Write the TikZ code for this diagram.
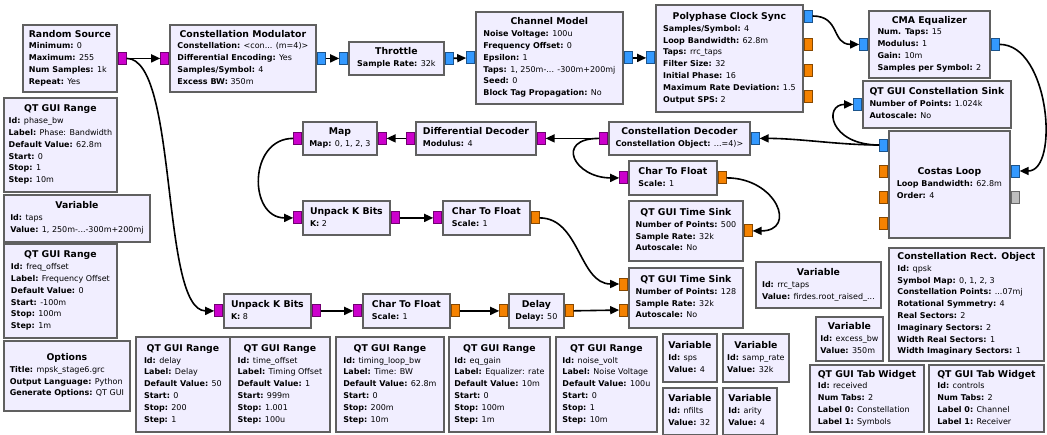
\documentclass[tikz,border=0pt]{standalone}
\usepackage{fontspec}
\setmainfont{DejaVu Sans}
\usetikzlibrary{positioning, arrows.meta}

\definecolor{blockfill}{RGB}{241,238,255}
\definecolor{blockedge}{RGB}{96,96,96}
\definecolor{cplxblue}{RGB}{51,153,255}
\definecolor{bytemag}{RGB}{204,0,204}
\definecolor{fltorange}{RGB}{245,130,0}
\definecolor{msggray}{RGB}{190,190,190}

% title centred over left aligned parameter lines
\newcommand{\blocktext}[2]{\begin{tabular}{@{}l@{}}\multicolumn{1}{@{}c@{}}{\fontsize{9.3}{12}\selectfont\bfseries #1}\\#2\end{tabular}}

\begin{document}
\begin{tikzpicture}[x=1pt, y=-1pt,
    block/.style={rectangle, draw=blockedge, line width=1.8pt, fill=blockfill,
                  anchor=north west, inner sep=0pt, font=\fontsize{8}{11.8}\selectfont},
    wh/.style 2 args={minimum width=#1pt, minimum height=#2pt},
    port/.style={rectangle, line width=0.8pt, minimum width=8pt, minimum height=12pt, inner sep=0pt},
    cplx/.style={port, fill=cplxblue, draw=cplxblue!55!black},
    byte/.style={port, fill=bytemag, draw=bytemag!55!black},
    flt/.style={port, fill=fltorange, draw=fltorange!55!black},
    msg/.style={port, fill=msggray, draw=msggray!55!black},
    arrow/.style={-{Triangle[length=9pt, width=8pt]}, line width=1.6pt}]

    \fill[white] (0,0) rectangle (1047,435);
    \useasboundingbox (0,0) rectangle (1047,435);

    % Signal blocks
    \node[block, wh={94}{67}] (rsrc) at (22,24) {\blocktext{Random Source}{\textbf{Minimum:} 0\\\textbf{Maximum:} 255\\\textbf{Num Samples:} 1k\\\textbf{Repeat:} Yes}};
    \node[block, wh={146}{67}] (cmod) at (169,24) {\blocktext{Constellation Modulator}{\textbf{Constellation:} <con... (m=4)>\\\textbf{Differential Encoding:} Yes\\\textbf{Samples/Symbol:} 4\\\textbf{Excess BW:} 350m}};
    \node[block, wh={95}{33}] (thr) at (348,41) {\blocktext{Throttle}{\textbf{Sample Rate:} 32k}};
    \node[block, wh={147}{92}] (chan) at (475,11) {\blocktext{Channel Model}{\textbf{Noise Voltage:} 100u\\\textbf{Frequency Offset:} 0\\\textbf{Epsilon:} 1\\\textbf{Taps:} 1, 250m-... -300m+200mj\\\textbf{Seed:} 0\\\textbf{Block Tag Propagation:} No}};
    \node[block, wh={147}{107}] (pfb) at (655,4) {\blocktext{Polyphase Clock Sync}{\textbf{Samples/Symbol:} 4\\\textbf{Loop Bandwidth:} 62.8m\\\textbf{Taps:} rrc\_taps\\\textbf{Filter Size:} 32\\\textbf{Initial Phase:} 16\\\textbf{Maximum Rate Deviation:} 1.5\\\textbf{Output SPS:} 2}};
    \node[block, wh={121}{67}] (cma) at (868,10) {\blocktext{CMA Equalizer}{\textbf{Num. Taps:} 15\\\textbf{Modulus:} 1\\\textbf{Gain:} 10m\\\textbf{Samples per Symbol:} 2}};
    \node[block, wh={148}{47}] (csink) at (862,80) {\blocktext{QT GUI Constellation Sink}{\textbf{Number of Points:} 1.024k\\\textbf{Autoscale:} No}};
    \node[block, wh={121}{107}] (costas) at (888,130) {\blocktext{Costas Loop}{\textbf{Loop Bandwidth:} 62.8m\\\textbf{Order:} 4}};
    \node[block, wh={141}{33}] (cdec) at (608,121) {\blocktext{Constellation Decoder}{\textbf{Constellation Object:} ...=4)>}};
    \node[block, wh={120}{33}] (ddec) at (415,121) {\blocktext{Differential Decoder}{\textbf{Modulus:} 4}};
    \node[block, wh={74}{33}] (map) at (302,121) {\blocktext{Map}{\textbf{Map:} 0, 1, 2, 3}};
    \node[block, wh={87}{34}] (ukb2) at (302,200) {\blocktext{Unpack K Bits}{\textbf{K:} 2}};
    \node[block, wh={87}{34}] (ctf2) at (442,200) {\blocktext{Char To Float}{\textbf{Scale:} 1}};
    \node[block, wh={88}{34}] (ctf1) at (628,160) {\blocktext{Char To Float}{\textbf{Scale:} 1}};
    \node[block, wh={114}{60}] (tsink1) at (628,200) {\blocktext{QT GUI Time Sink}{\textbf{Number of Points:} 500\\\textbf{Sample Rate:} 32k\\\textbf{Autoscale:} No}};
    \node[block, wh={114}{60}] (tsink2) at (628,267) {\blocktext{QT GUI Time Sink}{\textbf{Number of Points:} 128\\\textbf{Sample Rate:} 32k\\\textbf{Autoscale:} No}};
    \node[block, wh={87}{34}] (ukb8) at (223,293) {\blocktext{Unpack K Bits}{\textbf{K:} 8}};
    \node[block, wh={87}{34}] (ctf3) at (362,293) {\blocktext{Char To Float}{\textbf{Scale:} 1}};
    \node[block, wh={55}{34}] (dly) at (508,293) {\blocktext{Delay}{\textbf{Delay:} 50}};

    % Variables and GUI widgets
    \node[block, wh={113}{94}] (rngphase) at (3,97) {\blocktext{QT GUI Range}{\textbf{Id:} phase\_bw\\\textbf{Label:} Phase: Bandwidth\\\textbf{Default Value:} 62.8m\\\textbf{Start:} 0\\\textbf{Stop:} 1\\\textbf{Step:} 10m}};
    \node[block, wh={146}{47}] (vartaps) at (3,194) {\blocktext{Variable}{\textbf{Id:} taps\\\textbf{Value:} 1, 250m-...-300m+200mj}};
    \node[block, wh={113}{94}] (rngfreq) at (3,243) {\blocktext{QT GUI Range}{\textbf{Id:} freq\_offset\\\textbf{Label:} Frequency Offset\\\textbf{Default Value:} 0\\\textbf{Start:} -100m\\\textbf{Stop:} 100m\\\textbf{Step:} 1m}};
    \node[block, wh={126}{70}] (opts) at (3,340) {\blocktext{Options}{\textbf{Title:} mpsk\_stage6.grc\\\textbf{Output Language:} Python\\\textbf{Generate Options:} QT GUI}};
    \node[block, wh={94}{95}] (rngdelay) at (135,336) {\blocktext{QT GUI Range}{\textbf{Id:} delay\\\textbf{Label:} Delay\\\textbf{Default Value:} 50\\\textbf{Start:} 0\\\textbf{Stop:} 200\\\textbf{Step:} 1}};
    \node[block, wh={100}{95}] (rngtoff) at (229,336) {\blocktext{QT GUI Range}{\textbf{Id:} time\_offset\\\textbf{Label:} Timing Offset\\\textbf{Default Value:} 1\\\textbf{Start:} 999m\\\textbf{Stop:} 1.001\\\textbf{Step:} 100u}};
    \node[block, wh={108}{95}] (rngtlbw) at (335,336) {\blocktext{QT GUI Range}{\textbf{Id:} timing\_loop\_bw\\\textbf{Label:} Time: BW\\\textbf{Default Value:} 62.8m\\\textbf{Start:} 0\\\textbf{Stop:} 200m\\\textbf{Step:} 10m}};
    \node[block, wh={101}{95}] (rngeq) at (448,336) {\blocktext{QT GUI Range}{\textbf{Id:} eq\_gain\\\textbf{Label:} Equalizer: rate\\\textbf{Default Value:} 10m\\\textbf{Start:} 0\\\textbf{Stop:} 100m\\\textbf{Step:} 1m}};
    \node[block, wh={101}{95}] (rngnoise) at (555,336) {\blocktext{QT GUI Range}{\textbf{Id:} noise\_volt\\\textbf{Label:} Noise Voltage\\\textbf{Default Value:} 100u\\\textbf{Start:} 0\\\textbf{Stop:} 1\\\textbf{Step:} 10m}};
    \node[block, wh={54}{48}] (varsps) at (662,333) {\blocktext{Variable}{\textbf{Id:} sps\\\textbf{Value:} 4}};
    \node[block, wh={66}{48}] (varsamp) at (722,333) {\blocktext{Variable}{\textbf{Id:} samp\_rate\\\textbf{Value:} 32k}};
    \node[block, wh={54}{47}] (varnfilts) at (662,387) {\blocktext{Variable}{\textbf{Id:} nfilts\\\textbf{Value:} 32}};
    \node[block, wh={54}{47}] (vararity) at (722,387) {\blocktext{Variable}{\textbf{Id:} arity\\\textbf{Value:} 4}};
    \node[block, wh={125}{46}] (varrrc) at (755,261) {\blocktext{Variable}{\textbf{Id:} rrc\_taps\\\textbf{Value:} firdes.root\_raised\_...}};
    \node[block, wh={67}{44}] (varebw) at (815,316) {\blocktext{Variable}{\textbf{Id:} excess\_bw\\\textbf{Value:} 350m}};
    \node[block, wh={155}{113}] (crect) at (888,247) {\blocktext{Constellation Rect. Object}{\textbf{Id:} qpsk\\\textbf{Symbol Map:} 0, 1, 2, 3\\\textbf{Constellation Points:} ...07mj\\\textbf{Rotational Symmetry:} 4\\\textbf{Real Sectors:} 2\\\textbf{Imaginary Sectors:} 2\\\textbf{Width Real Sectors:} 1\\\textbf{Width Imaginary Sectors:} 1}};
    \node[block, wh={114}{67}] (tabrx) at (809,364) {\blocktext{QT GUI Tab Widget}{\textbf{Id:} received\\\textbf{Num Tabs:} 2\\\textbf{Label 0:} Constellation\\\textbf{Label 1:} Symbols}};
    \node[block, wh={115}{67}] (tabctl) at (928,364) {\blocktext{QT GUI Tab Widget}{\textbf{Id:} controls\\\textbf{Num Tabs:} 2\\\textbf{Label 0:} Channel\\\textbf{Label 1:} Receiver}};

    % Ports
    \node[byte, right=0pt of rsrc] (rsrc-out) {};
    \node[byte, left=0pt of cmod] (cmod-in) {};
    \node[cplx, right=0pt of cmod] (cmod-out) {};
    \node[cplx, left=0pt of thr] (thr-in) {};
    \node[cplx, right=0pt of thr] (thr-out) {};
    \node[cplx, left=0pt of chan] (chan-in) {};
    \node[cplx, right=0pt of chan] (chan-out) {};
    \node[cplx, left=0pt of pfb.west |- chan-in] (pfb-in) {};
    \node[cplx, right=0pt of pfb.north east, yshift=-12pt] (pfb-out) {};
    \node[flt, right=0pt of pfb.north east, yshift=-40pt] (pfb-rate) {};
    \node[flt, right=0pt of pfb.north east, yshift=-66pt] (pfb-phase) {};
    \node[flt, right=0pt of pfb.north east, yshift=-92pt] (pfb-err) {};
    \node[cplx, left=0pt of cma] (cma-in) {};
    \node[cplx, right=0pt of cma] (cma-out) {};
    \node[cplx, left=0pt of csink] (csink-in) {};
    \node[cplx, left=0pt of costas.north west, yshift=-15pt] (costas-out) {};
    \node[flt, left=0pt of costas.north west, yshift=-41pt] (costas-err) {};
    \node[flt, left=0pt of costas.north west, yshift=-67pt] (costas-phase) {};
    \node[flt, left=0pt of costas.north west, yshift=-93pt] (costas-freq) {};
    \node[cplx, right=0pt of costas.north east, yshift=-41pt] (costas-in) {};
    \node[msg, right=0pt of costas.north east, yshift=-67pt] (costas-msg) {};
    \node[cplx, right=0pt of cdec] (cdec-in) {};
    \node[byte, left=0pt of cdec] (cdec-out) {};
    \node[byte, right=0pt of ddec] (ddec-in) {};
    \node[byte, left=0pt of ddec] (ddec-out) {};
    \node[byte, right=0pt of map] (map-in) {};
    \node[byte, left=0pt of map] (map-out) {};
    \node[byte, left=0pt of ukb2] (ukb2-in) {};
    \node[byte, right=0pt of ukb2] (ukb2-out) {};
    \node[byte, left=0pt of ctf2] (ctf2-in) {};
    \node[flt, right=0pt of ctf2] (ctf2-out) {};
    \node[byte, left=0pt of ctf1] (ctf1-in) {};
    \node[flt, right=0pt of ctf1] (ctf1-out) {};
    \node[flt, right=0pt of tsink1] (tsink1-in) {};
    \node[flt, left=0pt of tsink2.north west, yshift=-17pt] (tsink2-in1) {};
    \node[flt, left=0pt of tsink2.north west, yshift=-43pt] (tsink2-in2) {};
    \node[byte, left=0pt of ukb8] (ukb8-in) {};
    \node[byte, right=0pt of ukb8] (ukb8-out) {};
    \node[byte, left=0pt of ctf3] (ctf3-in) {};
    \node[flt, right=0pt of ctf3] (ctf3-out) {};
    \node[flt, left=0pt of dly] (dly-in) {};
    \node[flt, right=0pt of dly] (dly-out) {};

    % Arrows
    \draw[arrow] (rsrc-out) -- (cmod-in);
    \draw[arrow] (rsrc-out.east) .. controls +(52,0) and +(-54,0) .. (ukb8-in.west);
    \draw[arrow] (cmod-out) -- (thr-in);
    \draw[arrow] (thr-out) -- (chan-in);
    \draw[arrow] (chan-out) -- (pfb-in);
    \draw[arrow] (pfb-out.east) .. controls +(28,0) and +(-28,0) .. (cma-in.west);
    \draw[arrow] (cma-out.east) .. controls +(50,0) and +(40,0) .. (costas-in.east);
    \draw[arrow] (costas-out.west) .. controls +(-40,0) and +(40,0) .. (cdec-in.east);
    \draw[arrow] (costas-out.west) .. controls +(-50,0) and +(-30,0) .. (csink-in.west);
    \draw[arrow] (cdec-out) -- (ddec-in);
    \draw[arrow] (cdec-out.west) .. controls +(-45,0) and +(-45,0) .. (ctf1-in.west);
    \draw[arrow] (ddec-out) -- (map-in);
    \draw[arrow] (map-out.west) .. controls +(-45,0) and +(-45,0) .. (ukb2-in.west);
    \draw[arrow] (ukb2-out) -- (ctf2-in);
    \draw[arrow] (ctf1-out.east) .. controls +(50,0) and +(45,0) .. (tsink1-in.east);
    \draw[arrow] (ctf2-out.east) .. controls +(40,0) and +(-40,0) .. (tsink2-in1.west);
    \draw[arrow] (ukb8-out) -- (ctf3-in);
    \draw[arrow] (ctf3-out) -- (dly-in);
    \draw[arrow] (dly-out) -- (tsink2-in2);

\end{tikzpicture}
\end{document}
